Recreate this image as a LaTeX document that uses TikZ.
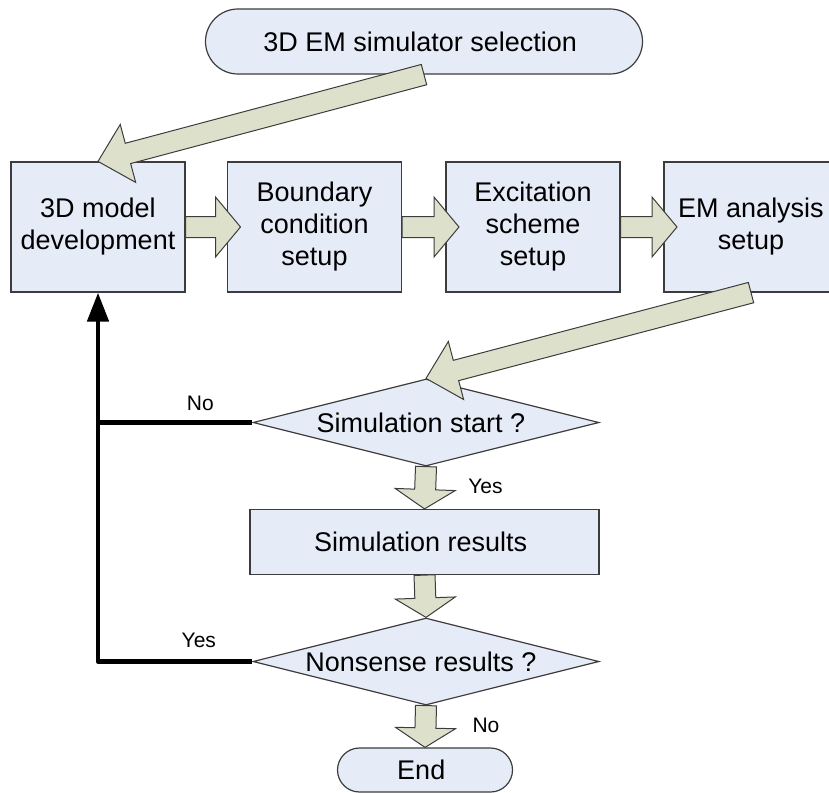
\documentclass[tikz,border=0pt]{standalone}
\usepackage{fontspec}
\setmainfont{Liberation Sans}
\usetikzlibrary{arrows.meta,calc,shapes.geometric,shapes.misc}
\usepackage{xcolor}

\definecolor{boxfill}{RGB}{230,236,247}
\definecolor{arrowfill}{RGB}{221,225,203}
\definecolor{edgegray}{RGB}{60,60,60}

% wide outlined arrow from #2 to the tip #3, #1 = head length
\newcommand{\fatarrow}[3][12.5pt]{%
    \coordinate (fa_head) at ($(#3)!#1!(#2)$);
    \draw[block arrow] ($(#2)!5.25pt!90:(#3)$) -- ($(fa_head)!5.25pt!-90:(#2)$)
        -- ($(fa_head)!15pt!-90:(#2)$) -- (#3) -- ($(fa_head)!15pt!90:(#2)$)
        -- ($(fa_head)!5.25pt!90:(#2)$) -- ($(#2)!5.25pt!-90:(#3)$) -- cycle;
}

\begin{document}
\begin{tikzpicture}[x=0.5pt, y=-0.5pt,
    every node/.style={
        font=\fontsize{13.5}{16}\selectfont,
        align=center,
        inner sep=0pt,
        draw=edgegray,
        line width=0.6pt,
        fill=boxfill
    },
    process/.style={rectangle, minimum width=87pt, minimum height=65pt},
    decision/.style={diamond, aspect=4, minimum width=173pt, minimum height=43.5pt},
    terminal/.style={rounded rectangle},
    answer/.style={draw=none, fill=none, font=\fontsize{10.5}{12}\selectfont},
    block arrow/.style={draw=edgegray, line width=0.5pt, fill=arrowfill, line join=miter},
    feedback/.style={black, line width=2.4pt, line join=round}
]
    \path[use as bounding box, clip] (0, 0) rectangle (829, 792);

    \node (em_simulator_selection) [terminal, minimum width=218.5pt, minimum height=32.5pt, shift={(424, 41.5)}]
    {
        3D EM simulator selection
    };



    \node (model_development) [process, shift={(98, 227)}]
    {
        3D model\\development
    };
    \node (boundary_setup) [process, shift={(314.5, 227)}]
    {
        Boundary\\condition\\setup
    };
    \node (excitation_setup) [process, shift={(533, 227)}]
    {
        Excitation\\scheme\\setup
    };
    \node (analysis_setup) [process, shift={(751, 227)}]
    {
        EM analysis\\setup
    };



    \node (simulation_start) [decision, shift={(426, 422.5)}]
    {
        Simulation start ?
    };
    \node (simulation_results) [process, minimum width=174.5pt, minimum height=32.5pt, shift={(424.5, 542)}]
    {
        Simulation results
    };
    \node (nonsense_results) [decision, shift={(426, 661.5)}]
    {
        Nonsense results ?
    };


    \node (end) [terminal, minimum width=87.5pt, minimum height=22pt, shift={(425, 770)}]
    {
        End
    };



    \node (no_start) [answer] at ([xshift=-26pt, yshift=9.7pt]simulation_start.west) {No};
    \node (yes_start) [answer] at ([xshift=29.75pt, yshift=-10pt]simulation_start.south) {Yes};
    \node (yes_nonsense) [answer] at ([xshift=-26.8pt, yshift=10.5pt]nonsense_results.west) {Yes};
    \node (no_nonsense) [answer] at ([xshift=30pt, yshift=-9.7pt]nonsense_results.south) {No};




    \fatarrow[15.5pt]{em_simulator_selection.south}{model_development.north}
    \fatarrow{model_development.east}{[xshift=6.8pt]boundary_setup.west}
    \fatarrow{boundary_setup.east}{[xshift=6.8pt]excitation_setup.west}
    \fatarrow{excitation_setup.east}{[xshift=6.8pt]analysis_setup.west}
    \fatarrow[15.5pt]{analysis_setup.south}{simulation_start.north}
    \fatarrow[9.7pt]{simulation_start.south}{simulation_results.north}
    \fatarrow[9.7pt]{simulation_results.south}{nonsense_results.north}
    \fatarrow[9.7pt]{nonsense_results.south}{end.north}

    \draw[feedback] (simulation_start.west) -- (model_development.south |- simulation_start.west);
    \draw[feedback, -{Triangle[length=14.5pt, width=10.5pt]}] (nonsense_results.west) -| (model_development.south);


\end{tikzpicture}
\end{document}
